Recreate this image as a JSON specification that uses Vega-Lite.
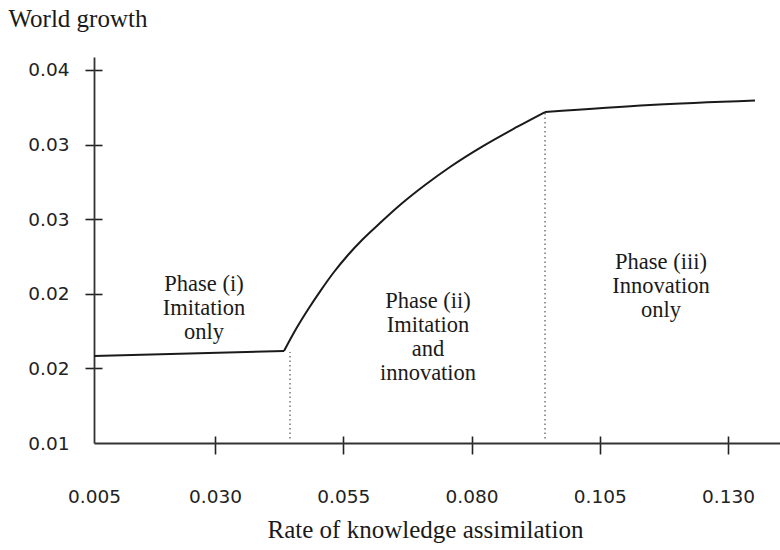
{
  "$schema": "https://vega.github.io/schema/vega-lite/v6.json",
  "autosize": "none",
  "padding": {"left": 94, "top": 57, "right": 0, "bottom": 107},
  "width": 686,
  "height": 386,
  "background": "white",
  "config": {
    "view": {"stroke": null},
    "axis": {"grid": false, "labelOverlap": false, "labelFlush": false}
  },
  "datasets": {
    "curve": [
      {"phase": "i", "rate": 0.006413, "growth": 0.015831},
      {"phase": "i", "rate": 0.04345, "growth": 0.016166},
      {"phase": "ii", "rate": 0.04345, "growth": 0.016166},
      {"phase": "ii", "rate": 0.04579, "growth": 0.01764},
      {"phase": "ii", "rate": 0.04832, "growth": 0.01905},
      {"phase": "ii", "rate": 0.05066, "growth": 0.02025},
      {"phase": "ii", "rate": 0.0532, "growth": 0.02146},
      {"phase": "ii", "rate": 0.05593, "growth": 0.0226},
      {"phase": "ii", "rate": 0.05885, "growth": 0.02367},
      {"phase": "ii", "rate": 0.06216, "growth": 0.02474},
      {"phase": "ii", "rate": 0.06606, "growth": 0.02595},
      {"phase": "ii", "rate": 0.07094, "growth": 0.02729},
      {"phase": "ii", "rate": 0.07581, "growth": 0.0285},
      {"phase": "ii", "rate": 0.08224, "growth": 0.0299},
      {"phase": "ii", "rate": 0.08887, "growth": 0.03118},
      {"phase": "ii", "rate": 0.09433, "growth": 0.03218},
      {"phase": "iii", "rate": 0.09433, "growth": 0.03218},
      {"phase": "iii", "rate": 0.11479, "growth": 0.03265},
      {"phase": "iii", "rate": 0.13526, "growth": 0.03295}
    ],
    "bounds": [
      {"rate": 0.04462, "low": 0.0103, "high": 0.0161},
      {"rate": 0.09433, "low": 0.0103, "high": 0.03212}
    ],
    "labels": [
      {"rate": 0.027856, "growth": 0.02022, "text": "Phase (i)\nImitation\nonly"},
      {"rate": 0.07152, "growth": 0.01905, "text": "Phase (ii)\nImitation\nand\ninnovation"},
      {"rate": 0.11694, "growth": 0.02165, "text": "Phase (iii)\nInnovation\nonly"}
    ]
  },
  "resolve": {
    "scale": {"x": "independent", "y": "independent"},
    "axis": {"x": "independent", "y": "independent"}
  },
  "layer": [
    {
      "data": {"name": "bounds"},
      "mark": {"type": "rule", "color": "#555555", "strokeWidth": 1.2, "strokeDash": [1.5, 3]},
      "encoding": {
        "x": {
          "field": "rate", "type": "quantitative",
          "scale": {"domain": [0.006413, 0.140135], "nice": false, "zero": false},
          "axis": {
            "orient": "bottom", "values": [0.006413, 0.03, 0.055, 0.08, 0.105, 0.13],
            "domain": false, "labels": false, "title": null,
            "tickSize": -7, "tickWidth": 1.6, "tickColor": "#222222",
            "tickOpacity": {"condition": {"test": "datum.value < 0.01", "value": 0}, "value": 1}
          }
        },
        "y": {
          "field": "low", "type": "quantitative",
          "scale": {"domain": [0.01, 0.03587], "nice": false, "zero": false},
          "axis": {
            "orient": "left", "values": [0.01, 0.015, 0.02, 0.025, 0.03, 0.035],
            "domain": false, "labels": false, "title": null,
            "tickSize": -8, "tickWidth": 1.6, "tickColor": "#222222",
            "tickOpacity": {"condition": {"test": "datum.value < 0.0125", "value": 0}, "value": 1}
          }
        },
        "y2": {"field": "high"}
      }
    },
    {
      "data": {"name": "curve"},
      "mark": {"type": "line", "color": "#1a1a1a", "strokeWidth": 2, "interpolate": "monotone"},
      "encoding": {
        "x": {
          "field": "rate", "type": "quantitative",
          "scale": {"domain": [0.006413, 0.140135], "nice": false, "zero": false},
          "axis": {
            "orient": "bottom", "values": [0.006413, 0.03, 0.055, 0.08, 0.105, 0.13],
            "labelExpr": "datum.value < 0.01 ? '0.005' : format(datum.value, '.3f')",
            "domainColor": "#333333", "domainWidth": 1.8,
            "tickSize": 11, "tickWidth": 1.6, "tickColor": "#222222",
            "tickOpacity": {"condition": {"test": "datum.value < 0.01", "value": 0}, "value": 1},
            "labelFont": "DejaVu Sans", "labelFontSize": 18.5, "labelColor": "#222222",
            "labelBaseline": "alphabetic", "labelPadding": 48,
            "title": "Rate of knowledge assimilation",
            "titleFont": "Liberation Serif", "titleFontSize": 25, "titleFontWeight": "normal",
            "titleColor": "#1a1a1a", "titleX": 331, "titleY": 94,
            "titleAlign": "center", "titleBaseline": "alphabetic"
          }
        },
        "y": {
          "field": "growth", "type": "quantitative",
          "scale": {"domain": [0.01, 0.03587], "nice": false, "zero": false},
          "axis": {
            "orient": "left", "values": [0.01, 0.015, 0.02, 0.025, 0.03, 0.035],
            "labelExpr": "format(datum.value + 0.0001, '.2f')",
            "domainColor": "#333333", "domainWidth": 1.8,
            "tickSize": 9, "tickWidth": 1.6, "tickColor": "#222222",
            "tickOpacity": {"condition": {"test": "datum.value < 0.0125", "value": 0}, "value": 1},
            "labelFont": "DejaVu Sans", "labelFontSize": 18.5, "labelColor": "#222222",
            "labelPadding": 16,
            "title": "World growth",
            "titleFont": "Liberation Serif", "titleFontSize": 25, "titleFontWeight": "normal",
            "titleColor": "#1a1a1a", "titleAngle": 0, "titleX": -86, "titleY": -31,
            "titleAlign": "left", "titleBaseline": "alphabetic"
          }
        },
        "detail": {"field": "phase"}
      }
    },
    {
      "data": {"name": "labels"},
      "mark": {"type": "text", "font": "Liberation Serif", "fontSize": 22.5, "color": "#1a1a1a",
               "align": "center", "baseline": "alphabetic", "lineBreak": "\n", "lineHeight": 24},
      "encoding": {
        "x": {"field": "rate", "type": "quantitative",
              "scale": {"domain": [0.006413, 0.140135], "nice": false, "zero": false}, "axis": null},
        "y": {"field": "growth", "type": "quantitative",
              "scale": {"domain": [0.01, 0.03587], "nice": false, "zero": false}, "axis": null},
        "text": {"field": "text"}
      }
    }
  ]
}
